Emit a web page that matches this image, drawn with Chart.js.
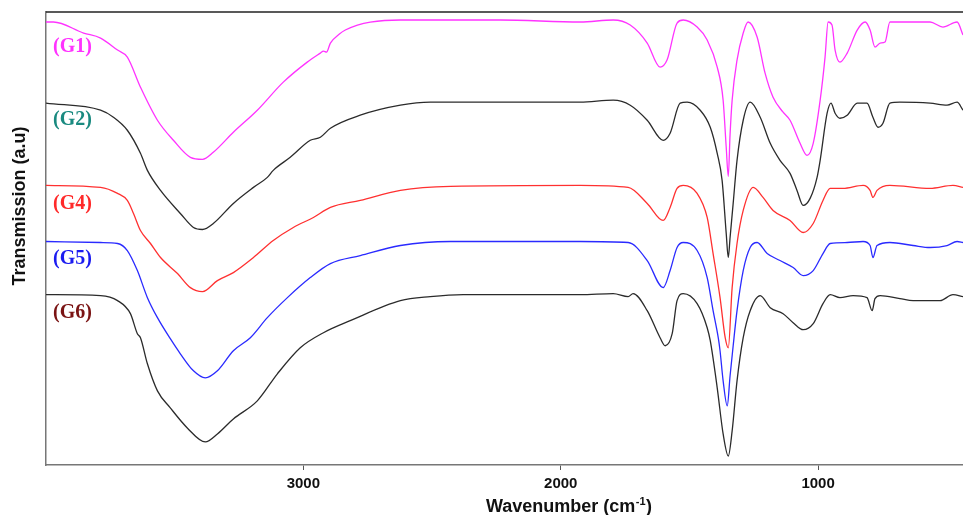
<!DOCTYPE html>
<html>
<head>
<meta charset="utf-8">
<script src="https://cdn.jsdelivr.net/npm/chart.js@4.4.1/dist/chart.umd.min.js"></script>
<style>
  html, body { margin: 0; padding: 0; background: #ffffff; }
  #wrap { width: 963px; height: 515px; position: relative; }
</style>
</head>
<body>
<div id="wrap"><canvas id="c" width="963" height="515"></canvas></div>
<script>
// ---- Data (wavenumber in cm-1, transmission in arbitrary units, curves offset) ----
const seriesNames = ["(G1)", "(G2)", "(G4)", "(G5)", "(G6)"];
const xTickValues = [3000, 2000, 1000];

const g1Wn = [4000,3971,3854,3788,3722,3684,3633,3567,3505,3439,3392,3350,3272,3179,3078,2985,2934,2922,2910,2895,2860,2837,2790,2740,2623,2235,1924,1796,1730,1664,1614,1587,1548,1524,1470,1431,1392,1369,1357,1349,1342,1334,1315,1291,1272,1237,1206,1175,1136,1109,1070,1043,1019,992,973,961,946,934,915,887,848,817,798,779,759,740,721,565,515,460,437];
const g1T  = [442,442,431,426,414,407,377,344,324,307,305,312,332,354,382,402,411,413,412,421,430,434,439,442,444,444,442,444,439,421,397,404,441,444,437,424,397,364,317,288,330,364,404,431,442,427,391,367,352,344,321,309,321,364,407,442,439,414,402,411,434,442,434,417,421,422,442,442,437,442,429];

const g2Wn = [4000,3788,3738,3684,3633,3606,3555,3478,3427,3392,3350,3272,3194,3140,3117,3051,2973,2934,2895,2779,2623,2507,1924,1796,1730,1664,1602,1575,1536,1509,1458,1419,1392,1373,1357,1349,1342,1330,1315,1291,1264,1225,1186,1148,1109,1082,1058,1031,1004,992,965,950,934,915,887,848,810,787,767,748,721,682,565,499,460,437];
const g2T  = [361,354,347,334,311,294,274,251,237,235,241,261,277,287,294,307,324,327,336,349,359,362,362,364,359,344,324,331,361,362,354,337,311,284,231,207,227,261,304,344,362,347,321,304,291,274,259,266,287,304,351,361,351,346,349,361,361,347,337,341,361,362,361,359,362,354];

const g4Wn = [4000,3788,3722,3684,3660,3633,3594,3555,3489,3439,3392,3334,3272,3194,3117,3039,2961,2895,2779,2623,2429,1924,1738,1664,1602,1575,1548,1524,1470,1431,1408,1381,1361,1349,1334,1315,1291,1252,1214,1175,1109,1058,1019,981,953,903,825,798,787,771,721,565,476,437];
const g4T  = [279,277,271,264,251,234,221,207,191,177,173,184,192,207,224,237,247,257,264,274,278,279,277,261,244,257,276,279,271,247,211,167,127,117,177,221,254,277,267,254,244,232,241,264,276,276,279,274,267,274,279,276,279,277];

const g5Wn = [4000,3788,3722,3684,3645,3606,3567,3517,3478,3427,3381,3334,3272,3206,3140,3062,2973,2895,2779,2623,2429,1924,1738,1664,1602,1575,1548,1524,1470,1431,1408,1388,1381,1369,1353,1342,1330,1315,1291,1264,1237,1198,1148,1097,1058,1019,981,953,887,825,798,787,771,721,631,565,499,460,437];
const g5T  = [223,222,221,214,194,167,147,126,111,94,87,94,114,127,147,167,187,201,209,219,223,223,222,204,177,194,217,222,214,187,154,127,114,84,59,89,119,154,194,217,222,211,204,197,189,194,211,221,222,223,219,207,219,222,219,217,219,223,222];

const g6Wn = [4000,3788,3722,3672,3645,3633,3606,3567,3517,3451,3381,3334,3272,3179,3101,3012,2922,2818,2623,2507,2379,1924,1796,1738,1719,1664,1614,1594,1567,1548,1524,1470,1431,1419,1392,1369,1349,1334,1315,1291,1264,1225,1186,1136,1097,1058,1019,981,953,915,864,810,790,779,759,682,631,526,476,437];
const g6T  = [170,169,164,151,131,127,101,74,57,37,23,31,46,64,91,117,132,144,164,168,170,170,171,168,171,154,127,119,131,164,171,161,137,124,77,31,9,34,84,127,154,169,157,151,142,135,141,161,170,167,169,167,154,166,169,166,164,164,170,168];

const seriesColors = ["#ff33ff", "#2b2b2b", "#ff3030", "#2a2aff", "#2b2b2b"];
const labelColors = ["#ff33ff", "#1a8a80", "#ff2a2a", "#1c1cf0", "#7a1414"];
const labelValues = [417, 344, 261, 206, 152]; // vertical positions (transmission units) for labels

const zip = (xs, ys) => xs.map((x, i) => ({ x: x, y: ys[i] }));
const allWn = [g1Wn, g2Wn, g4Wn, g5Wn, g6Wn];
const allT = [g1T, g2T, g4T, g5T, g6T];

const datasets = allWn.map((wn, i) => ({
  label: seriesNames[i],
  data: zip(wn, allT[i]),
  borderColor: seriesColors[i],
  borderWidth: 1.3,
  pointRadius: 0,
  fill: false,
  cubicInterpolationMode: 'monotone'
}));

const textPlugin = {
  id: 'texts',
  afterDraw(chart) {
    const ctx = chart.ctx;
    const a = chart.chartArea;
    const ys = chart.scales.y;
    ctx.save();
    // top frame line
    ctx.strokeStyle = '#222';
    ctx.lineWidth = 1.5;
    ctx.beginPath();
    ctx.moveTo(a.left, a.top);
    ctx.lineTo(a.right, a.top);
    ctx.stroke();

    // series labels
    ctx.font = 'bold 20px "Liberation Serif", "Times New Roman", serif';
    ctx.textBaseline = 'middle';
    ctx.textAlign = 'left';
    seriesNames.forEach((name, i) => {
      ctx.fillStyle = labelColors[i];
      ctx.fillText(name, a.left + 7, ys.getPixelForValue(labelValues[i]));
    });

    // y axis title
    ctx.save();
    ctx.translate(20, 206);
    ctx.rotate(-Math.PI / 2);
    ctx.font = 'bold 18px "Liberation Sans", Arial, sans-serif';
    ctx.fillStyle = '#111';
    ctx.textAlign = 'center';
    ctx.textBaseline = 'middle';
    ctx.fillText('Transmission (a.u)', 0, 0);
    ctx.restore();

    // x axis title with superscript
    const main = 'Wavenumber (cm';
    const sup = '-1';
    const close = ')';
    ctx.font = 'bold 18px "Liberation Sans", Arial, sans-serif';
    const w1 = ctx.measureText(main).width;
    const w3 = ctx.measureText(close).width;
    ctx.font = 'bold 11px "Liberation Sans", Arial, sans-serif';
    const w2 = ctx.measureText(sup).width;
    const total = w1 + w2 + w3 + 1;
    let x0 = 569 - total / 2;
    const base = 512;
    ctx.fillStyle = '#111';
    ctx.textAlign = 'left';
    ctx.textBaseline = 'alphabetic';
    ctx.font = 'bold 18px "Liberation Sans", Arial, sans-serif';
    ctx.fillText(main, x0, base);
    ctx.font = 'bold 11px "Liberation Sans", Arial, sans-serif';
    ctx.fillText(sup, x0 + w1 + 0.5, base - 7);
    ctx.font = 'bold 18px "Liberation Sans", Arial, sans-serif';
    ctx.fillText(close, x0 + w1 + w2 + 1, base);
    ctx.restore();
  }
};

new Chart(document.getElementById('c'), {
  type: 'line',
  data: { datasets: datasets },
  options: {
    responsive: false,
    animation: false,
    layout: { padding: { left: 38, top: 12, right: 0, bottom: 17 } },
    plugins: { legend: { display: false }, tooltip: { enabled: false } },
    scales: {
      x: {
        type: 'linear',
        reverse: true,
        min: 437,
        max: 4000,
        afterBuildTicks: (scale) => { scale.ticks = xTickValues.map(v => ({ value: v })); },
        grid: { display: true, drawOnChartArea: false, drawTicks: true, tickLength: 5, color: '#555', lineWidth: 1 },
        border: { display: true, color: '#777', width: 1.5 },
        ticks: {
          color: '#111',
          padding: 5,
          maxRotation: 0,
          font: { family: '"Liberation Sans", Arial, sans-serif', size: 15, weight: 'bold' },
          callback: (v) => String(v)
        },
        title: { display: false }
      },
      y: {
        type: 'linear',
        min: 0,
        max: 452,
        grid: { display: false },
        border: { display: true, color: '#777', width: 1.5 },
        ticks: { display: false },
        title: { display: false }
      }
    }
  },
  plugins: [textPlugin]
});
</script>
</body>
</html>
